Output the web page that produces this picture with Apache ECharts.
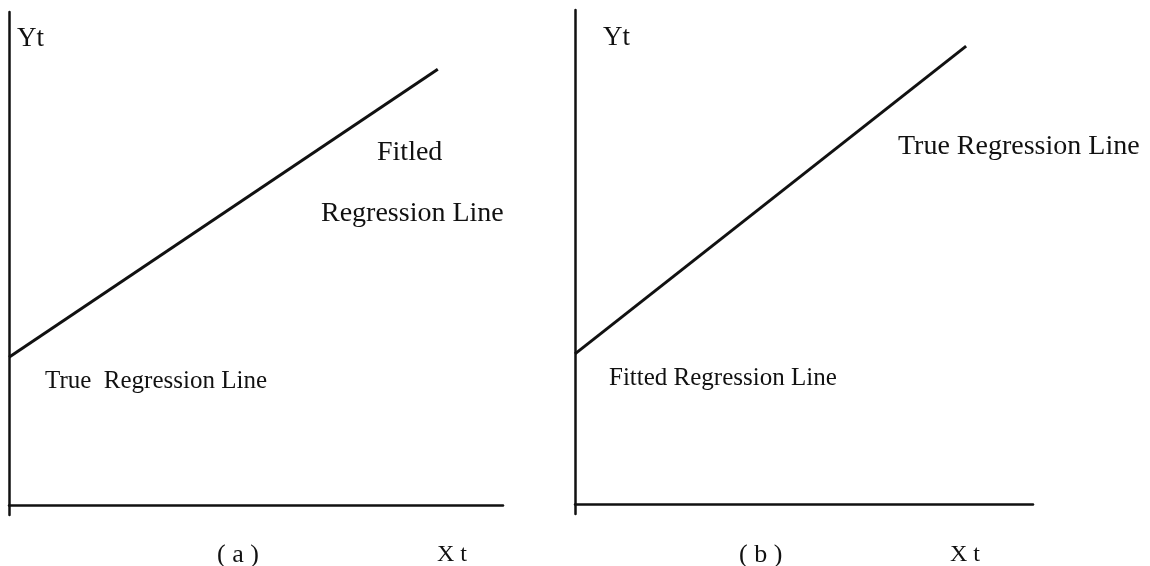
<!DOCTYPE html>
<html>
<head>
<meta charset="utf-8">
<title>True and fitted regression lines</title>
<script src="https://cdn.jsdelivr.net/npm/echarts@6/dist/echarts.min.js"></script>
<style>
    html, body { margin: 0; padding: 0; background: #fff; }
    #chart { width: 1150px; height: 566px; }
</style>
</head>
<body>
<div id="chart"></div>
<script>
// 两条线的端点 (坐标轴单位 0-100)
var lineA_x = [0, 86.8];
var lineA_y = [30.0, 88.4];
var lineB_x = [0, 85.4];
var lineB_y = [30.4, 92.7];

// 文字
var labelY = 'Yt';
var labelX = 'X t';
var captionA = '( a )';
var captionB = '( b )';

function pairs(xs, ys) {
    var out = [];
    for (let i = 0; i < xs.length; i++) {
        out.push([xs[i], ys[i]]);
    }
    return out;
}

var serif = '"Liberation Serif", "DejaVu Serif", serif';
var ink = '#111';

function txt(str, x, y, size) {
    return {
        type: 'text',
        left: x,
        top: y - size / 2,
        style: {
            text: str,
            fill: ink,
            font: size + 'px ' + serif,
        },
    };
}

function axisStyle() {
    return {
        show: true,
        lineStyle: { color: ink, width: 2.5 },
    };
}

var chart = echarts.init(document.getElementById('chart'));
chart.setOption({
    backgroundColor: '#fff',
    animation: false,
    grid: [
        { left: 9, top: 12, width: 494, height: 503 },
        { left: 575, top: 10, width: 458, height: 504 },
    ],
    xAxis: [0, 1].map(function (i) {
        return {
            type: 'value',
            gridIndex: i,
            min: 0,
            max: 100,
            axisLine: axisStyle(),
            axisTick: { show: false },
            axisLabel: { show: false },
            splitLine: { show: false },
        };
    }),
    yAxis: [0, 1].map(function (i) {
        return {
            type: 'value',
            gridIndex: i,
            min: -2,
            max: 100,
            axisLine: axisStyle(),
            axisTick: { show: false },
            axisLabel: { show: false },
            splitLine: { show: false },
        };
    }),
    series: [
        {
            type: 'line',
            xAxisIndex: 0,
            yAxisIndex: 0,
            data: pairs(lineA_x, lineA_y),
            symbol: 'none',
            lineStyle: { color: ink, width: 3 },
        },
        {
            type: 'line',
            xAxisIndex: 1,
            yAxisIndex: 1,
            data: pairs(lineB_x, lineB_y),
            symbol: 'none',
            lineStyle: { color: ink, width: 3 },
        },
    ],
    graphic: [
        // 左图
        txt(labelY, 17, 39, 27),
        txt('Fitled', 377, 153, 28),
        txt('Regression Line', 321, 214, 28),
        txt('True  Regression Line', 45, 381, 25),
        txt(captionA, 217, 555, 26),
        txt(labelX, 437, 555, 24),
        // 右图
        txt(labelY, 603, 38, 27),
        txt('True Regression Line', 898, 147, 28),
        txt('Fitted Regression Line', 609, 378, 25),
        txt(captionB, 739, 555, 26),
        txt(labelX, 950, 555, 24),
    ],
});
</script>
</body>
</html>
